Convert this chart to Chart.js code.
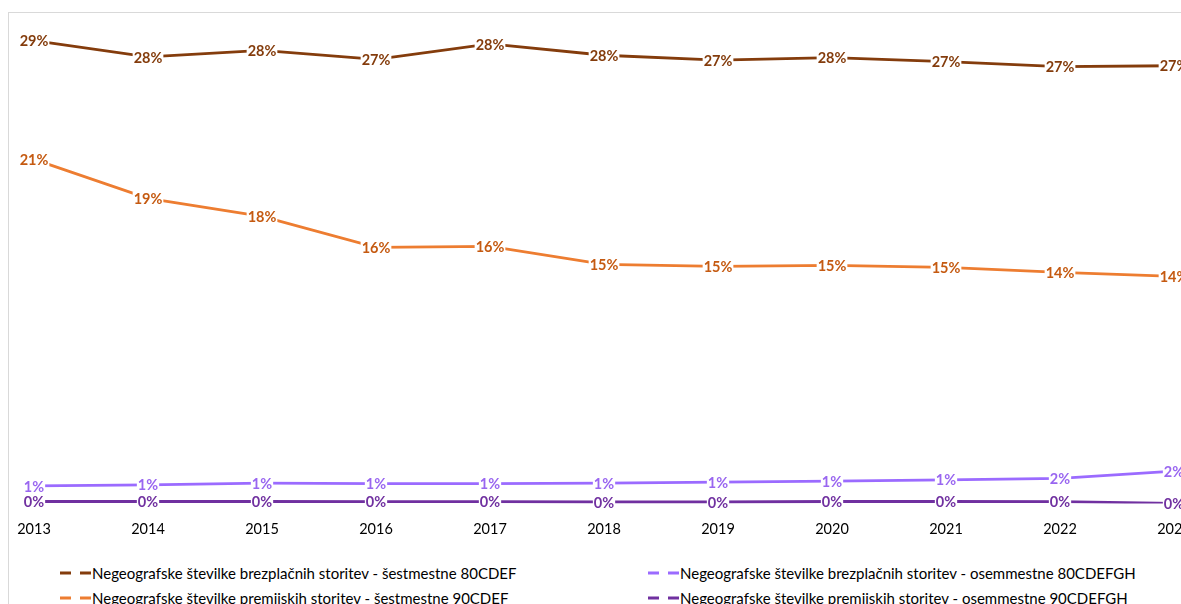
<!DOCTYPE html>
<html>
<head>
<meta charset="utf-8">
<script src="https://cdn.jsdelivr.net/npm/chart.js@4"></script>
<style>
  html, body { margin: 0; padding: 0; background: #fff; overflow: hidden; }
  #frame { position: absolute; left: 8px; top: 12px; width: 1300px; height: 700px;
           border-left: 1px solid #d9d9d9; border-top: 1px solid #d9d9d9; }
  #box { position: absolute; left: 0; top: 0; width: 1200px; height: 547px; }
  #legend { position: absolute; left: 0; top: 0; font-family: Lato, sans-serif; font-size: 15px; color: #000; }
  .item { position: absolute; white-space: nowrap; display: flex; align-items: center; height: 20px; }
  .item svg { margin-right: 1px; }
</style>
</head>
<body>
<div id="frame">
  <div id="box"><canvas id="myChart"></canvas></div>
  <div id="legend"></div>
</div>
<script>
const years = ['2013','2014','2015','2016','2017','2018','2019','2020','2021','2022','2023'];

const names = [
  'Negeografske številke brezplačnih storitev - šestmestne 80CDEF',
  'Negeografske številke brezplačnih storitev - osemmestne 80CDEFGH',
  'Negeografske številke premijskih storitev - šestmestne 90CDEF',
  'Negeografske številke premijskih storitev - osemmestne 90CDEFGH'
];

const free6 = [28.6, 27.6, 28.0, 27.45, 28.4, 27.7, 27.4, 27.55, 27.3, 27.0, 27.05];
const free8 = [1.09, 1.16, 1.26, 1.24, 1.24, 1.26, 1.33, 1.39, 1.47, 1.56, 2.0];
const prem6 = [21.27, 18.86, 17.75, 15.83, 15.89, 14.78, 14.66, 14.72, 14.6, 14.29, 14.04];
const prem8 = [0.13, 0.13, 0.13, 0.12, 0.12, 0.1, 0.1, 0.13, 0.13, 0.12, 0.02];

const lineColors = ['#843C0C', '#9B6BFF', '#ED7D31', '#7030A0'];
const labelColors = ['#843C0C', '#9966F0', '#C55A11', '#7030A0'];

const ctx = document.getElementById('myChart');

// labels centred on the points, with a white box behind them
const pointLabels = {
  id: 'pointLabels',
  afterDatasetsDraw(chart) {
    const c = chart.ctx;
    c.save();
    c.font = 'bold 14.5px Lato, sans-serif';
    c.textAlign = 'center';
    c.textBaseline = 'middle';
    chart.data.datasets.forEach((ds, i) => {
      const meta = chart.getDatasetMeta(i);
      meta.data.forEach((pt, j) => {
        const txt = Math.round(ds.data[j]) + '%';
        const w = c.measureText(txt).width;
        c.fillStyle = '#fff';
        c.fillRect(pt.x - w / 2 - 1, pt.y - 7, w + 2, 14);
        c.fillStyle = labelColors[i];
        c.fillText(txt, pt.x, pt.y + 1);
      });
    });
    c.restore();
  }
};

const chart = new Chart(ctx, {
  type: 'line',
  data: {
    labels: years,
    datasets: [
      { label: names[0], data: free6 },
      { label: names[1], data: free8 },
      { label: names[2], data: prem6 },
      { label: names[3], data: prem8 }
    ].map((d, i) => Object.assign(d, {
      borderColor: lineColors[i],
      backgroundColor: lineColors[i],
      borderWidth: 2.8,
      pointRadius: 0,
      tension: 0
    }))
  },
  options: {
    responsive: true,
    maintainAspectRatio: false,
    animation: false,
    layout: { autoPadding: false, padding: { left: 25, right: 35, top: 5, bottom: 19 } },
    plugins: { legend: { display: false }, tooltip: { enabled: false } },
    scales: {
      x: {
        offset: false,
        border: { display: false },
        // tick marks hidden, their length only spaces the labels off the plot
        grid: { display: false, drawTicks: true, tickLength: 14 },
        ticks: { padding: 3, color: '#000', font: { family: 'Lato', size: 14.5 }, maxRotation: 0 }
      },
      y: { display: false, min: 0, max: 30 }
    }
  },
  plugins: [pointLabels]
});

// legend in two columns, built from the datasets
const legend = document.getElementById('legend');
const cols = [50, 638];
const rows = [550, 575];
chart.data.datasets.forEach((ds, i) => {
  const el = document.createElement('div');
  el.className = 'item';
  el.style.left = cols[i % 2] + 'px';
  el.style.top = rows[Math.floor(i / 2)] + 'px';
  el.innerHTML = '<svg width="32" height="6"><line x1="1" y1="3" x2="32" y2="3" stroke="' +
    ds.borderColor + '" stroke-width="3" stroke-dasharray="11 9"/></svg>';
  el.appendChild(document.createTextNode(ds.label));
  legend.appendChild(el);
});
</script>
</body>
</html>
